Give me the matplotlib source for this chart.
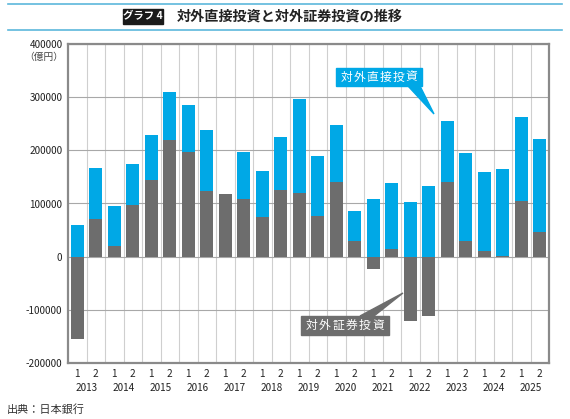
import numpy as np
import matplotlib.pyplot as plt
from matplotlib.patches import Rectangle, Polygon
from matplotlib.transforms import blended_transform_factory

plt.rcParams['font.family'] = ['Noto Sans CJK JP', 'DejaVu Sans']

# データ（億円）
years = list(range(2013, 2026))
halves = ['1', '2']
direct = [60000, 96000, 74000, 75500, 84500, 90000, 87000, 114000, 0, 87000,
          87000, 98600, 175500, 113000, 107500, 57500, 109000, 124000, 102000,
          132000, 116500, 166600, 148600, 162700, 158500, 176000]
securities = [-155000, 71000, 21000, 98000, 144500, 220000, 197500, 124000,
              117000, 109000, 75000, 126000, 120500, 76000, 139500, 29000,
              -23000, 14000, -121000, -111000, 139500, 29000, 11400, 2000,
              104000, 46000]

blue = '#00a8e6'
gray = '#6d6d6d'
W, H = 570, 419

fig = plt.figure(figsize=(W / 100, H / 100), dpi=100)
ax = fig.add_axes([68 / W, 1 - 363 / H, (549 - 68) / W, (363 - 44) / H])

x = np.arange(len(direct))
sec = np.array(securities)
ax.bar(x, sec, width=0.72, color=gray, zorder=3)
ax.bar(x, direct, bottom=np.maximum(sec, 0), width=0.72, color=blue, zorder=3)

ax.set_xlim(-0.5, len(direct) - 0.5)
ax.set_ylim(-200000, 400000)
ax.set_yticks(np.arange(-200000, 400001, 100000))
ax.set_yticklabels([f'{v:d}' for v in range(-200000, 400001, 100000)], fontsize=7.2, color='#222222')
ax.set_xticks(x)
ax.set_xticklabels(halves * len(years), fontsize=7.2, color='#222222')
ax.set_xticks(np.arange(0.5, len(direct) - 1, 1), minor=True)
ax.tick_params(which='both', length=0, pad=4)
ax.grid(which='minor', axis='x', color='#cfcfcf', lw=0.8, zorder=0)
ax.grid(which='major', axis='y', color='#a8a8a8', lw=0.8, zorder=0)
for s in ax.spines.values():
    s.set_color('#8a8a8a')
    s.set_linewidth(1.6)

tr = blended_transform_factory(ax.transData, ax.transAxes)
for k, yr in enumerate(years):
    ax.text(2 * k + 0.5, -0.078, str(yr), transform=tr, ha='center', va='center',
            fontsize=7.2, color='#222222')
fig.text(63 / W, 1 - 57 / H, '（億円）', ha='right', va='center', fontsize=7, color='#444444')

# タイトル
fig.add_artist(plt.Line2D([8 / W, 562 / W], [1 - 4 / H, 1 - 4 / H], color='#5cb8dc', lw=1.2))
fig.add_artist(plt.Line2D([8 / W, 562 / W], [1 - 30 / H, 1 - 30 / H], color='#5cb8dc', lw=1.2))
fig.add_artist(Rectangle((123 / W, 1 - 24 / H), 40 / W, 15 / H, color='#1a1a1a'))
fig.text(143 / W, 1 - 16.5 / H, 'グラフ 4', ha='center', va='center', fontsize=7.5,
         color='white', fontweight='bold', style='italic')
fig.text(177 / W, 1 - 17 / H, '対外直接投資と対外証券投資の推移', ha='left', va='center',
         fontsize=10.2, color='#222222', fontweight='bold')


def spaced(text, x0, x1, yc):
    # 吹き出しの文字を等間隔に並べる
    step = (x1 - x0) / len(text)
    for i, ch in enumerate(text):
        fig.text((x0 + step * (i + 0.5)) / W, 1 - yc / H, ch, ha='center', va='center',
                 fontsize=8.5, color='white')


# 吹き出し
fig.add_artist(Polygon([(408 / W, 1 - 86 / H), (420 / W, 1 - 86 / H), (434 / W, 1 - 114 / H)],
                       closed=True, color=blue))
fig.add_artist(Rectangle((336 / W, 1 - 86 / H), 86 / W, 18 / H, color=blue))
spaced('対外直接投資', 340, 418, 77)

fig.add_artist(Polygon([(360 / W, 1 - 316 / H), (374 / W, 1 - 316 / H), (403 / W, 1 - 293 / H)],
                       closed=True, color=gray))
fig.add_artist(Rectangle((301 / W, 1 - 335 / H), 88 / W, 19 / H, color=gray))
spaced('対外証券投資', 305, 385, 325.5)

fig.text(7 / W, 1 - 410 / H, '出典：日本銀行', ha='left', va='center', fontsize=8, color='#333333')

fig.savefig('out.png', dpi=100)
